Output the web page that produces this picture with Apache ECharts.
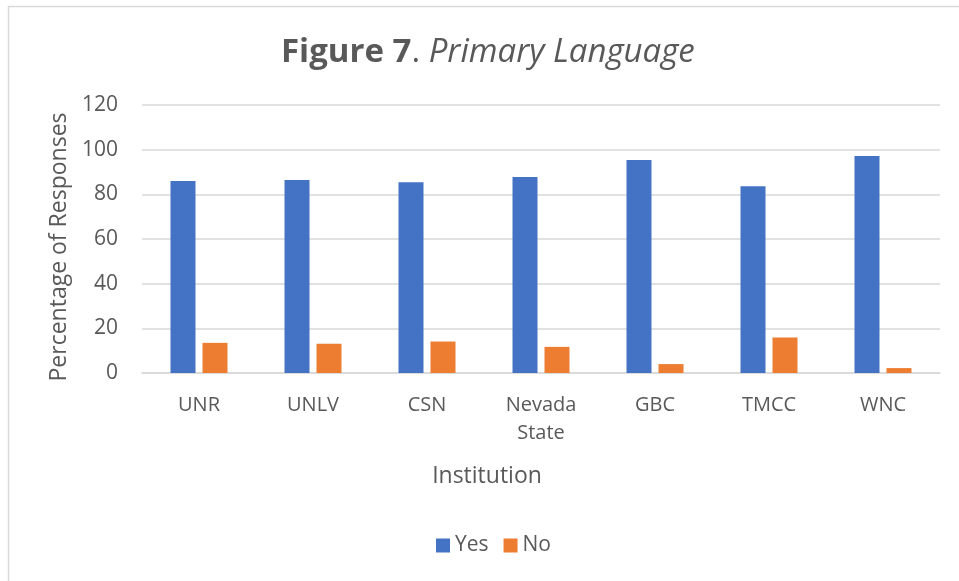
<!DOCTYPE html>
<html>
<head>
<meta charset="utf-8">
<script src="https://cdn.jsdelivr.net/npm/echarts@6/dist/echarts.min.js"></script>
<style>
  html, body { margin: 0; padding: 0; background: #fff; }
  #main { width: 959px; height: 581px; }
</style>
</head>
<body>
<div id="main"></div>
<script>
  // institutions on the x axis
  var institutions = ['UNR', 'UNLV', 'CSN', 'Nevada\nState', 'GBC', 'TMCC', 'WNC'];
  // percentages
  var yesData = [86.0, 86.4, 85.4, 87.8, 95.4, 83.6, 97.2];
  var noData = [13.5, 13.1, 14.1, 11.7, 4.0, 15.9, 2.2];

  var textColor = '#595959';
  var font = '"Open Sans", "Noto Sans", sans-serif';

  var myChart = echarts.init(document.getElementById('main'));

  var option = {
    backgroundColor: '#fff',
    textStyle: { fontFamily: font, color: textColor },
    graphic: [{
      // border of the chart area (left and top visible)
      type: 'rect',
      shape: { x: 8.5, y: 6.5, width: 980, height: 600 },
      style: { fill: 'none', stroke: '#d9d9d9', lineWidth: 1.5 },
      silent: true
    }],
    title: {
      text: '{b|Figure 7}{n|. }{i|Primary Language}',
      left: 276,
      top: 31,
      textStyle: {
        rich: {
          b: { fontFamily: font, fontSize: 33, fontWeight: 'bold', color: textColor },
          n: { fontFamily: font, fontSize: 33, fontWeight: 'normal', color: textColor },
          i: { fontFamily: font, fontSize: 33, fontWeight: 'normal', fontStyle: 'italic', color: textColor }
        }
      }
    },
    legend: {
      data: ['Yes', 'No'],
      bottom: 20,
      left: 431,
      itemWidth: 14,
      itemHeight: 14,
      itemGap: 15,
      icon: 'rect',
      textStyle: { fontFamily: font, fontSize: 21, color: textColor }
    },
    grid: { left: 142, right: 19, top: 105, bottom: 208 },
    xAxis: {
      type: 'category',
      data: institutions,
      name: 'Institution',
      nameLocation: 'middle',
      nameGap: 92,
      nameTextStyle: { fontFamily: font, fontSize: 23, color: textColor, padding: [0, 108, 0, 0] },
      axisLine: { lineStyle: { color: '#d9d9d9', width: 1.5 } },
      axisTick: { show: false },
      axisLabel: { fontFamily: font, fontSize: 20, color: textColor, margin: 18, lineHeight: 28, interval: 0 }
    },
    yAxis: {
      type: 'value',
      min: 0,
      max: 120,
      interval: 20,
      name: 'Percentage of Responses',
      nameLocation: 'middle',
      nameGap: 71,
      nameTextStyle: { fontFamily: font, fontSize: 23, color: textColor, padding: [0, 16, 0, 0] },
      axisLine: { show: false },
      axisTick: { show: false },
      splitLine: { lineStyle: { color: '#d9d9d9', width: 1.5 } },
      axisLabel: { fontFamily: font, fontSize: 21, color: textColor, margin: 24 }
    },
    series: [{
      name: 'Yes',
      type: 'bar',
      data: yesData,
      barWidth: 25,
      barGap: '28%',
      itemStyle: { color: '#4472C4' }
    }, {
      name: 'No',
      type: 'bar',
      data: noData,
      barWidth: 25,
      itemStyle: { color: '#ED7D31' }
    }]
  };

  myChart.setOption(option);
</script>
</body>
</html>
